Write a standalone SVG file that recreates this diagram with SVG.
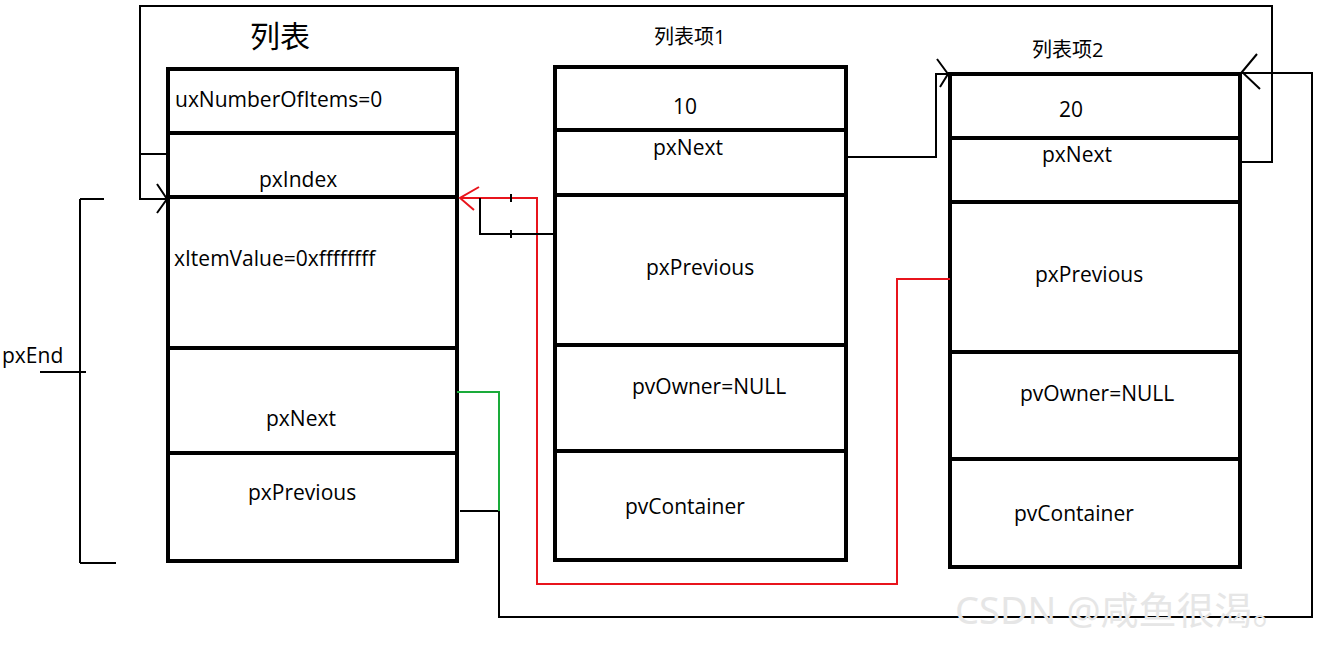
<svg xmlns="http://www.w3.org/2000/svg" width="1344" height="645" viewBox="0 0 1344 645">
<style>
.box{fill:none;stroke:#000;stroke-width:4}
.t{font-family:"Open Sans","Noto Sans","Noto Sans CJK SC",sans-serif;font-size:21px;fill:#000}
.c{fill:none;stroke:#000;stroke-width:2}
</style>
<rect width="1344" height="645" fill="#fff"/>
<g id="list">
<rect class="box" x="168" y="69" width="289" height="492"/>
<path class="box" d="M168 133H457M168 197H457M168 348H457M168 453H457"/>
<text x="250" y="47" class="t" style="font-size:30px">列表</text>
<text x="175" y="107" class="t">uxNumberOfItems=0</text>
<text x="259" y="187" class="t">pxIndex</text>
<text x="174" y="266" class="t">xItemValue=0xffffffff</text>
<text x="266" y="426" class="t">pxNext</text>
<text x="248" y="500" class="t">pxPrevious</text>
</g>
<g id="item1">
<rect class="box" x="555" y="67" width="291" height="493"/>
<path class="box" d="M555 130H846M555 195H846M555 345H846M555 451H846"/>
<text x="654" y="44" class="t" style="font-size:20px">列表项1</text>
<text x="673" y="114" class="t">10</text>
<text x="653" y="155" class="t">pxNext</text>
<text x="646" y="275" class="t">pxPrevious</text>
<text x="632" y="394" class="t">pvOwner=NULL</text>
<text x="625" y="514" class="t">pvContainer</text>
</g>
<g id="item2">
<rect class="box" x="950" y="74" width="290" height="493"/>
<path class="box" d="M950 138H1240M950 202H1240M950 352H1240M950 459H1240"/>
<text x="1032" y="57" class="t" style="font-size:20px">列表项2</text>
<text x="1059" y="117" class="t">20</text>
<text x="1042" y="162" class="t">pxNext</text>
<text x="1035" y="282" class="t">pxPrevious</text>
<text x="1020" y="401" class="t">pvOwner=NULL</text>
<text x="1014" y="521" class="t">pvContainer</text>
</g>
<g id="pxEnd">
<path class="c" d="M80 199V563M80 199H104M80 563H116M40 372H86"/>
<text x="2" y="363" class="t">pxEnd</text>
</g>
<g id="connectors">
<path class="c" d="M1242 162H1272V6H140V199H166M140 154H168"/>
<path class="c" d="M157 184L167 199L157 213"/>
<path class="c" d="M846 157H936V74H948"/>
<path class="c" d="M937 59L948 74L940 87"/>
<path class="c" d="M460 511H499V617H1312V73H1242"/>
<path class="c" d="M1257 54L1242 72L1260 89"/>
<path fill="none" stroke="#1aab3a" stroke-width="2" d="M457 392H499V511"/>
<path fill="none" stroke="#e8141c" stroke-width="2" d="M950 279H897V584H537V198H460"/>
<path fill="none" stroke="#e8141c" stroke-width="2" d="M479 187L460 198L474 210"/>
<path class="c" d="M555 234H480V198"/>
<path class="c" d="M511 194V202M511 230V238"/>
</g>
<text x="955" y="624" style="font-family:'Noto Sans','Noto Sans CJK SC',sans-serif;font-size:38px;fill:#e6e6e6">CSDN @咸鱼很渴。</text>
</svg>
